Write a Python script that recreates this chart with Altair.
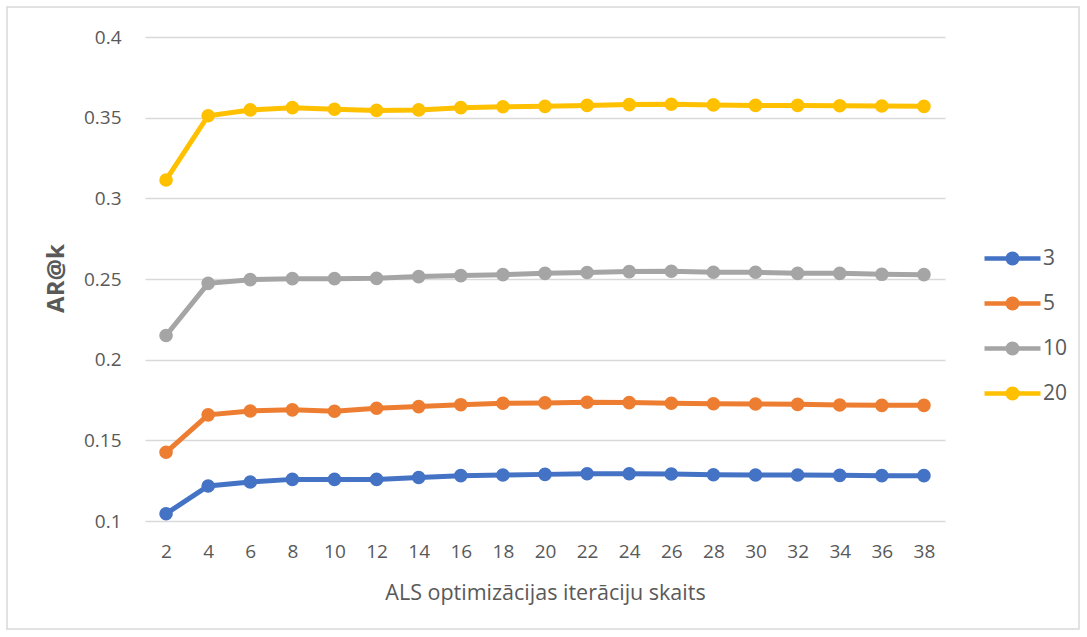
import altair as alt
import pandas as pd

# ALS iteration counts on the x axis
iterations = [2, 4, 6, 8, 10, 12, 14, 16, 18, 20, 22, 24, 26, 28, 30, 32, 34, 36, 38]

# AR@k for each cut-off k
ar_k3 = [0.1045, 0.1217, 0.1242, 0.1258, 0.1258, 0.1258, 0.1270, 0.1281, 0.1285, 0.1289,
         0.1293, 0.1293, 0.1291, 0.1287, 0.1285, 0.1285, 0.1283, 0.1281, 0.1281]
ar_k5 = [0.1426, 0.1658, 0.1682, 0.1689, 0.1680, 0.1699, 0.1709, 0.1721, 0.1730, 0.1732,
         0.1736, 0.1734, 0.1730, 0.1727, 0.1725, 0.1723, 0.1719, 0.1717, 0.1717]
ar_k10 = [0.2150, 0.2473, 0.2496, 0.2502, 0.2502, 0.2504, 0.2515, 0.2521, 0.2527, 0.2535,
          0.2540, 0.2546, 0.2548, 0.2542, 0.2542, 0.2535, 0.2535, 0.2529, 0.2527]
ar_k20 = [0.3114, 0.3512, 0.3548, 0.3562, 0.3552, 0.3545, 0.3548, 0.3562, 0.3568, 0.3570,
          0.3576, 0.3581, 0.3583, 0.3579, 0.3576, 0.3576, 0.3574, 0.3572, 0.3570]

series_names = ["3", "5", "10", "20"]
series_colors = ["#4472C4", "#ED7D31", "#A5A5A5", "#FFC000"]
y_ticks = [0.1, 0.15, 0.2, 0.25, 0.3, 0.35, 0.4]

rows = []
for name, values in zip(series_names, [ar_k3, ar_k5, ar_k10, ar_k20]):
    for it, v in zip(iterations, values):
        rows.append({"iter": it, "k": name, "ar": v})
df = pd.DataFrame(rows)

FONT = "Open Sans"
TEXT = "#595959"
GRID = "#D9D9D9"

# legend glyph: a short line with a dot in the middle
legend_path = ("M-2,0 L2,0 "
               "M-0.34,0 A0.34,0.34 0 1,0 0.34,0 A0.34,0.34 0 1,0 -0.34,0 Z")

color = alt.Color(
    "k:N",
    scale=alt.Scale(domain=series_names, range=series_colors),
    legend=alt.Legend(
        title=None,
        orient="none",
        legendX=851,
        legendY=205,
        symbolType=legend_path,
        symbolSize=784,
        symbolStrokeWidth=4.5,
        labelOffset=14,
        labelFont=FONT,
        labelFontSize=21,
        labelColor=TEXT,
        rowPadding=14,
    ),
)

x = alt.X(
    "iter:O",
    title="ALS optimizācijas iterāciju skaits",
    axis=alt.Axis(
        labelAngle=0, ticks=False, domain=False, grid=False,
        labelPadding=21, labelFont=FONT, labelFontSize=19, labelColor=TEXT,
        titleFont=FONT, titleFontSize=21.5, titleFontWeight="normal", titleColor=TEXT,
        titleY=72, titleBaseline="middle",
    ),
)

y = alt.Y(
    "ar:Q",
    title="AR@k",
    scale=alt.Scale(domain=[0.1, 0.4], zero=False, nice=False),
    axis=alt.Axis(
        values=y_ticks, format="~g", ticks=False, domain=False,
        grid=True, gridColor=GRID, gridWidth=1.3,
        labelPadding=24, labelFont=FONT, labelFontSize=19, labelColor=TEXT,
        titleFont=FONT, titleFontSize=24, titleFontWeight="bold", titleColor=TEXT,
        titleAngle=270, titleX=-89, titleY=241, titleAlign="center", titleBaseline="middle",
    ),
)

base = alt.Chart(df)
lines = base.mark_line(strokeWidth=5).encode(x=x, y=y, color=color)
points = base.mark_point(filled=True, size=185, opacity=1).encode(x=x, y=y, color=color)

# thin frame around the whole chart
frame = alt.Chart(alt.Data(values=[{}])).mark_rect(
    fillOpacity=0, stroke=GRID, strokeWidth=1.5
).encode(
    x=alt.value(-138), x2=alt.value(934),
    y=alt.value(-30), y2=alt.value(592),
)

chart = alt.layer(frame, lines, points).properties(
    width=800,
    height=484,
    autosize=alt.AutoSizeParams(type="none"),
    padding={"left": 145, "top": 37, "right": 142, "bottom": 116},
    background="white",
).configure_view(stroke=None)

chart.save("out.html", embed_options={"renderer": "svg", "actions": False})
